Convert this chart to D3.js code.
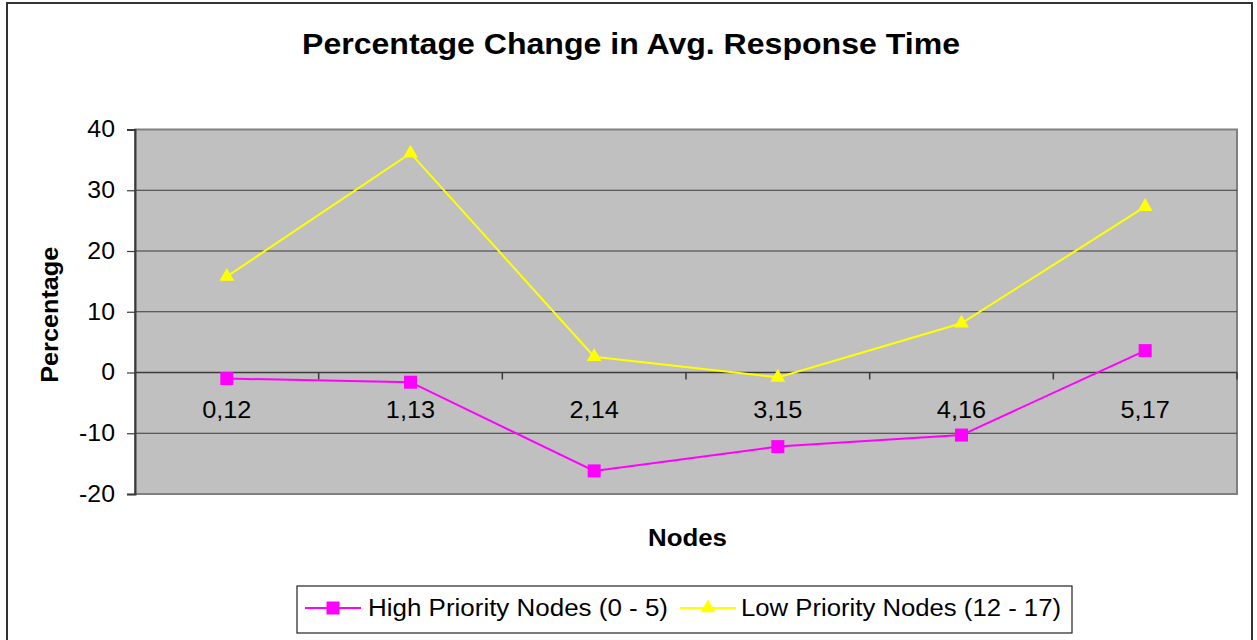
<!DOCTYPE html>
<html>
<head>
<meta charset="utf-8">
<script src="https://cdnjs.cloudflare.com/ajax/libs/d3/7.8.5/d3.min.js"></script>
<style>
  body { margin: 0; background: #fff; }
  text { font-family: "Liberation Sans", Arial, sans-serif; fill: #000; }
</style>
</head>
<body>
<div id="my_dataviz"></div>
<script>
// chart data
var nodes = ["0,12", "1,13", "2,14", "3,15", "4,16", "5,17"];
var highPriority = [-1.0, -1.6, -16.2, -12.2, -10.3, 3.6];
var lowPriority = [15.8, 36.1, 2.6, -0.8, 8.1, 27.3];
var yTicks = [-20, -10, 0, 10, 20, 30, 40];
var seriesNames = ["High Priority Nodes (0 - 5)", "Low Priority Nodes (12 - 17)"];

// set the dimensions of the plot area
var W = 1257, H = 640;
var plot = {left: 135, top: 129.5, right: 1237, bottom: 494};

var svg = d3.select("#my_dataviz")
  .append("svg")
  .attr("width", W)
  .attr("height", H);

// the original text is a bit wider than the font, stretch it
function stretch(sel, factor) {
  sel.each(function() {
    var w = this.getComputedTextLength();
    d3.select(this)
      .attr("textLength", w * factor)
      .attr("lengthAdjust", "spacingAndGlyphs");
  });
}

// outer chart frame
svg.append("rect")
  .attr("x", 7).attr("y", 3)
  .attr("width", 1245).attr("height", 660)
  .attr("fill", "#fff")
  .attr("stroke", "#333")
  .attr("stroke-width", 2);

// title
svg.append("text")
  .attr("x", 631).attr("y", 54)
  .attr("text-anchor", "middle")
  .attr("textLength", 658)
  .attr("lengthAdjust", "spacingAndGlyphs")
  .style("font-size", "29px")
  .style("font-weight", "bold")
  .text("Percentage Change in Avg. Response Time");

var x = d3.scaleBand()
  .domain(nodes)
  .range([plot.left, plot.right]);

var y = d3.scaleLinear()
  .domain([-20, 40])
  .range([plot.bottom, plot.top]);

// gray plot background
svg.append("rect")
  .attr("x", plot.left).attr("y", plot.top)
  .attr("width", plot.right - plot.left)
  .attr("height", plot.bottom - plot.top)
  .attr("fill", "#c0c0c0")
  .attr("stroke", "#808080")
  .attr("stroke-width", 2);

// horizontal gridlines
svg.append("g")
  .selectAll("line")
  .data(yTicks.filter(function(d) { return d != -20 && d != 40; }))
  .enter().append("line")
  .attr("x1", plot.left).attr("x2", plot.right)
  .attr("y1", function(d) { return y(d); })
  .attr("y2", function(d) { return y(d); })
  .attr("stroke", "#3a3a3a")
  .attr("stroke-width", 1.2);

// y axis, plain hyphen for negatives
var yAxis = svg.append("g")
  .attr("transform", "translate(" + plot.left + ",0)")
  .call(d3.axisLeft(y)
    .tickValues(yTicks)
    .tickFormat(function(d) { return String(d); })
    .tickSize(8)
    .tickPadding(12));
yAxis.select(".domain").attr("stroke", "#3a3a3a").attr("stroke-width", 2);
yAxis.selectAll(".tick line").attr("stroke", "#3a3a3a").attr("stroke-width", 1.2);
yAxis.selectAll(".tick text")
  .style("font-size", "23px")
  .style("font-family", "Liberation Sans, Arial, sans-serif")
  .attr("fill", "#000")
  .call(stretch, 1.08);

// x axis on the zero line, ticks between categories
var xAxis = svg.append("g")
  .attr("transform", "translate(0," + y(0) + ")");
xAxis.append("line")
  .attr("x1", plot.left).attr("x2", plot.right)
  .attr("stroke", "#3a3a3a").attr("stroke-width", 1.5);
xAxis.selectAll(".sep")
  .data(nodes)
  .enter().append("line")
  .attr("class", "sep")
  .attr("x1", function(d) { return x(d) + x.step(); })
  .attr("x2", function(d) { return x(d) + x.step(); })
  .attr("y1", 0).attr("y2", 7)
  .attr("stroke", "#3a3a3a").attr("stroke-width", 1.5);
xAxis.selectAll(".lbl")
  .data(nodes)
  .enter().append("text")
  .attr("class", "lbl")
  .attr("x", function(d) { return x(d) + x.bandwidth() / 2; })
  .attr("y", 45)
  .attr("text-anchor", "middle")
  .style("font-size", "23px")
  .text(function(d) { return d; })
  .call(stretch, 1.1);

// axis titles
svg.append("text")
  .attr("transform", "translate(58," + ((plot.top + plot.bottom) / 2 + 3) + ") rotate(-90)")
  .attr("text-anchor", "middle")
  .attr("textLength", 136)
  .attr("lengthAdjust", "spacingAndGlyphs")
  .style("font-size", "23px")
  .style("font-weight", "bold")
  .text("Percentage");

svg.append("text")
  .attr("x", 687.5).attr("y", 546)
  .attr("text-anchor", "middle")
  .attr("textLength", 79)
  .attr("lengthAdjust", "spacingAndGlyphs")
  .style("font-size", "23px")
  .style("font-weight", "bold")
  .text("Nodes");

var line = d3.line()
  .x(function(d, i) { return x(nodes[i]) + x.bandwidth() / 2; })
  .y(function(d) { return y(d); });

// high priority series (magenta squares)
svg.append("path")
  .datum(highPriority)
  .attr("fill", "none")
  .attr("stroke", "#ff00ff")
  .attr("stroke-width", 2)
  .attr("d", line);
svg.selectAll(".sq")
  .data(highPriority)
  .enter().append("rect")
  .attr("class", "sq")
  .attr("x", function(d, i) { return x(nodes[i]) + x.bandwidth() / 2 - 6.5; })
  .attr("y", function(d) { return y(d) - 6.5; })
  .attr("width", 13).attr("height", 13)
  .attr("fill", "#ff00ff");

// low priority series (yellow triangles)
var tri = d3.symbol().type(d3.symbolTriangle).size(95);
svg.append("path")
  .datum(lowPriority)
  .attr("fill", "none")
  .attr("stroke", "#ffff00")
  .attr("stroke-width", 2)
  .attr("d", line);
svg.selectAll(".tri")
  .data(lowPriority)
  .enter().append("path")
  .attr("class", "tri")
  .attr("transform", function(d, i) {
    return "translate(" + (x(nodes[i]) + x.bandwidth() / 2) + "," + y(d) + ")";
  })
  .attr("d", tri)
  .attr("fill", "#ffff00");

// legend
var legend = svg.append("g");
legend.append("rect")
  .attr("x", 297).attr("y", 586)
  .attr("width", 775).attr("height", 47)
  .attr("fill", "#fff")
  .attr("stroke", "#222")
  .attr("stroke-width", 1.2);

var legendItems = [
  {name: seriesNames[0], color: "#ff00ff", x0: 305, tx: 368, len: 300},
  {name: seriesNames[1], color: "#ffff00", x0: 680, tx: 741, len: 320}
];
legendItems.forEach(function(item, i) {
  legend.append("line")
    .attr("x1", item.x0).attr("x2", item.x0 + 56)
    .attr("y1", 608).attr("y2", 608)
    .attr("stroke", item.color).attr("stroke-width", 2);
  if (i == 0) {
    legend.append("rect")
      .attr("x", item.x0 + 28 - 6.5).attr("y", 608 - 6.5)
      .attr("width", 13).attr("height", 13)
      .attr("fill", item.color);
  } else {
    legend.append("path")
      .attr("transform", "translate(" + (item.x0 + 28) + ",608)")
      .attr("d", tri)
      .attr("fill", item.color);
  }
  legend.append("text")
    .attr("x", item.tx).attr("y", 616)
    .attr("textLength", item.len)
    .attr("lengthAdjust", "spacingAndGlyphs")
    .style("font-size", "23px")
    .text(item.name);
});
</script>
</body>
</html>
